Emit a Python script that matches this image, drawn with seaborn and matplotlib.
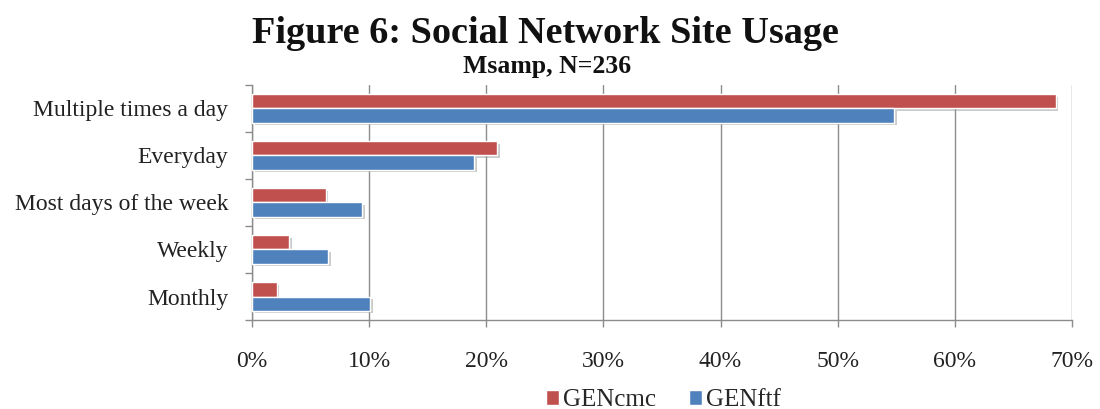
import matplotlib
matplotlib.use("Agg")
import matplotlib.pyplot as plt
import matplotlib.patheffects as pe
from matplotlib.ticker import FixedLocator, PercentFormatter
import seaborn as sns
import pandas as pd

categories = ["Multiple times a day", "Everyday", "Most days of the week", "Weekly", "Monthly"]
series_names = ["GENcmc", "GENftf"]
gencmc = [68.6, 20.9, 6.3, 3.2, 2.1]
genftf = [54.8, 19.0, 9.4, 6.5, 10.1]
xticks = [0, 10, 20, 30, 40, 50, 60, 70]

df = pd.DataFrame({
    "category": categories * 2,
    "series": [series_names[0]] * len(categories) + [series_names[1]] * len(categories),
    "value": gencmc + genftf,
})

sns.set_style("white")
plt.rcParams["font.family"] = ["Liberation Serif", "DejaVu Serif"]

fig = plt.figure(figsize=(11, 4.09), dpi=100)
ax = fig.add_axes([0.229, 0.2176, 0.7455, 0.5746])

palette = {"GENcmc": "#C0504D", "GENftf": "#4F81BD"}
sns.barplot(data=df, y="category", x="value", hue="series", order=categories,
            hue_order=series_names, palette=palette, orient="h", width=0.6,
            saturation=1, edgecolor="white", linewidth=1.0, ax=ax, zorder=3)

ax.set_xlim(0, 70)
ax.set_ylim(4.5, -0.5)
ax.set_xticks(xticks)
ax.xaxis.set_major_formatter(PercentFormatter(decimals=0))
ax.grid(axis="x", color="#8c8c8c", linewidth=1.0, zorder=0)
ax.set_axisbelow(True)

ax.yaxis.set_minor_locator(FixedLocator([i - 0.5 for i in range(len(categories) + 1)]))
ax.tick_params(axis="y", which="major", length=0, labelsize=17, pad=17)
ax.tick_params(axis="y", which="minor", length=5, width=1, color="#8c8c8c", direction="out", left=True)
ax.tick_params(axis="x", which="major", length=5, width=1, color="#8c8c8c", direction="out", bottom=True,
               labelsize=17, pad=17)
for lbl in ax.get_yticklabels():
    lbl.set_color("#222222")
for lbl in ax.get_xticklabels():
    lbl.set_color("#222222")

for s in ["top", "right"]:
    ax.spines[s].set_visible(False)
for s in ["left", "bottom"]:
    ax.spines[s].set_color("#8c8c8c")
    ax.spines[s].set_linewidth(1.0)

ax.set_xlabel("")
ax.set_ylabel("")

handles, labels = ax.get_legend_handles_labels()
ax.legend_.remove()
fig.legend(handles, labels, loc="center", bbox_to_anchor=(0.603, 0.022), ncol=2, frameon=False,
           fontsize=18, handlelength=0.55, handleheight=0.55, handletextpad=0.15, columnspacing=1.3)

for p in ax.patches:
    p.set_path_effects([pe.SimplePatchShadow(offset=(2, -2), shadow_rgbFace="#999999", alpha=0.5), pe.Normal()])

fig.text(0.496, 0.918, "Figure 6: Social Network Site Usage", ha="center", va="center",
         fontsize=27.5, fontweight="bold", color="#111111")
fig.text(0.497, 0.838, "Msamp, N=236", ha="center", va="center",
         fontsize=18.5, fontweight="bold", color="#111111")

fig.savefig("out.png", dpi=100)
